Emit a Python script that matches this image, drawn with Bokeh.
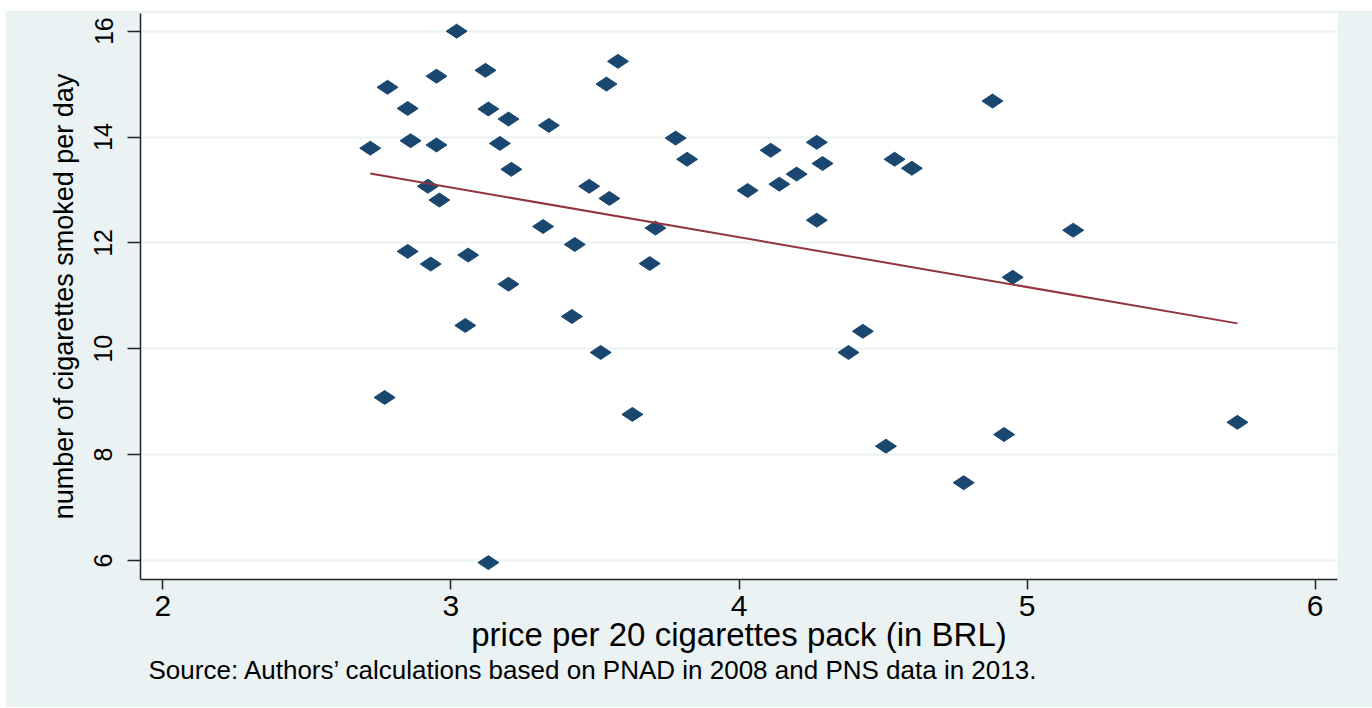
import numpy as np
from bokeh.plotting import figure
from bokeh.models import Range1d, Title
from bokeh.embed import file_html
from bokeh.resources import INLINE

# price per 20 cigarettes pack (BRL), one entry per state/year
price = [2.72, 2.78, 2.77, 2.85, 2.86, 2.85, 2.95, 2.95, 2.92, 2.96, 2.93, 3.02,
         3.12, 3.13, 3.17, 3.20, 3.21, 3.06, 3.05, 3.20, 3.13, 3.34, 3.32, 3.43,
         3.48, 3.54, 3.58, 3.55, 3.42, 3.52, 3.63, 3.69, 3.71, 3.78, 3.82, 4.03,
         4.11, 4.14, 4.20, 4.27, 4.29, 4.27, 4.38, 4.43, 4.51, 4.54, 4.60, 4.78,
         4.88, 4.92, 4.95, 5.16, 5.73]
# number of cigarettes smoked per day
cigs = [13.79, 14.94, 9.08, 14.54, 13.93, 11.84, 15.15, 13.85, 13.07, 12.81, 11.60, 16.00,
        15.26, 14.53, 13.88, 14.34, 13.39, 11.77, 10.44, 11.22, 5.96, 14.22, 12.31, 11.97,
        13.07, 15.00, 15.43, 12.84, 10.61, 9.93, 8.76, 11.61, 12.28, 13.98, 13.58, 12.99,
        13.75, 13.11, 13.30, 13.90, 13.50, 12.43, 9.93, 10.33, 8.16, 13.58, 13.41, 7.47,
        14.68, 8.38, 11.35, 12.24, 8.61]
# fitted line end points
fit_price = [2.72, 5.73]
fit_cigs = [13.31, 10.48]

x_ticks = [2, 3, 4, 5, 6]
y_ticks = [6, 8, 10, 12, 14, 16]

x_title = "price per 20 cigarettes pack (in BRL)"
y_title = "number of cigarettes smoked per day"
note = "Source: Authors\u2019 calculations based on PNAD in 2008 and PNS data in 2013."

FONT = "Liberation Sans"
BG = "#eaf2f3"

p = figure(width=1367, height=697, output_backend="svg", toolbar_location=None,
           x_range=Range1d(1.9226, 6.0774), y_range=Range1d(5.641, 16.334),
           min_border_left=135, min_border_right=35, min_border_top=3,
           min_border_bottom=128)
p.margin = (10, 0, 0, 5)
p.background_fill_color = "white"
p.border_fill_color = BG
p.outline_line_color = None

p.xgrid.visible = False
p.ygrid.ticker = y_ticks
p.ygrid.grid_line_color = BG
p.ygrid.grid_line_width = 2

for ax in (p.xaxis, p.yaxis):
    ax.axis_line_color = "#222222"
    ax.axis_line_width = 1.5
    ax.major_tick_line_color = "#222222"
    ax.major_tick_line_width = 1.5
    ax.major_tick_in = 0
    ax.minor_tick_in = 0
    ax.minor_tick_out = 0
    ax.major_label_text_font = FONT
    ax.major_label_text_color = "black"
    ax.axis_label_text_font = FONT
    ax.axis_label_text_font_style = "normal"
    ax.axis_label_text_color = "black"

p.xaxis.ticker = x_ticks
p.xaxis.major_tick_out = 10
p.xaxis.major_label_standoff = 6
p.xaxis.major_label_text_font_size = "30px"
p.xaxis.axis_label = x_title
p.xaxis.axis_label_text_font_size = "33px"
p.xaxis.axis_label_standoff = -3

p.yaxis.ticker = y_ticks
p.yaxis.major_tick_out = 13
p.yaxis.major_label_standoff = 15
p.yaxis.major_label_orientation = "vertical"
p.yaxis.major_label_text_font_size = "25px"
p.yaxis.axis_label = y_title
p.yaxis.axis_label_text_font_size = "27px"
p.yaxis.axis_label_standoff = 13

p.scatter(price, cigs, marker="diamond", size=21, angle=np.pi / 2,
          fill_color="#1a476f", line_color="#1a476f")
p.line(fit_price, fit_cigs, line_color="#90353b", line_width=2)

src = Title(text=note, align="left", text_font=FONT, text_font_size="26px",
            text_font_style="normal", text_color="black", offset=8, standoff=-5)
p.add_layout(src, "below")

open("out.html", "w").write(file_html(p, INLINE))
